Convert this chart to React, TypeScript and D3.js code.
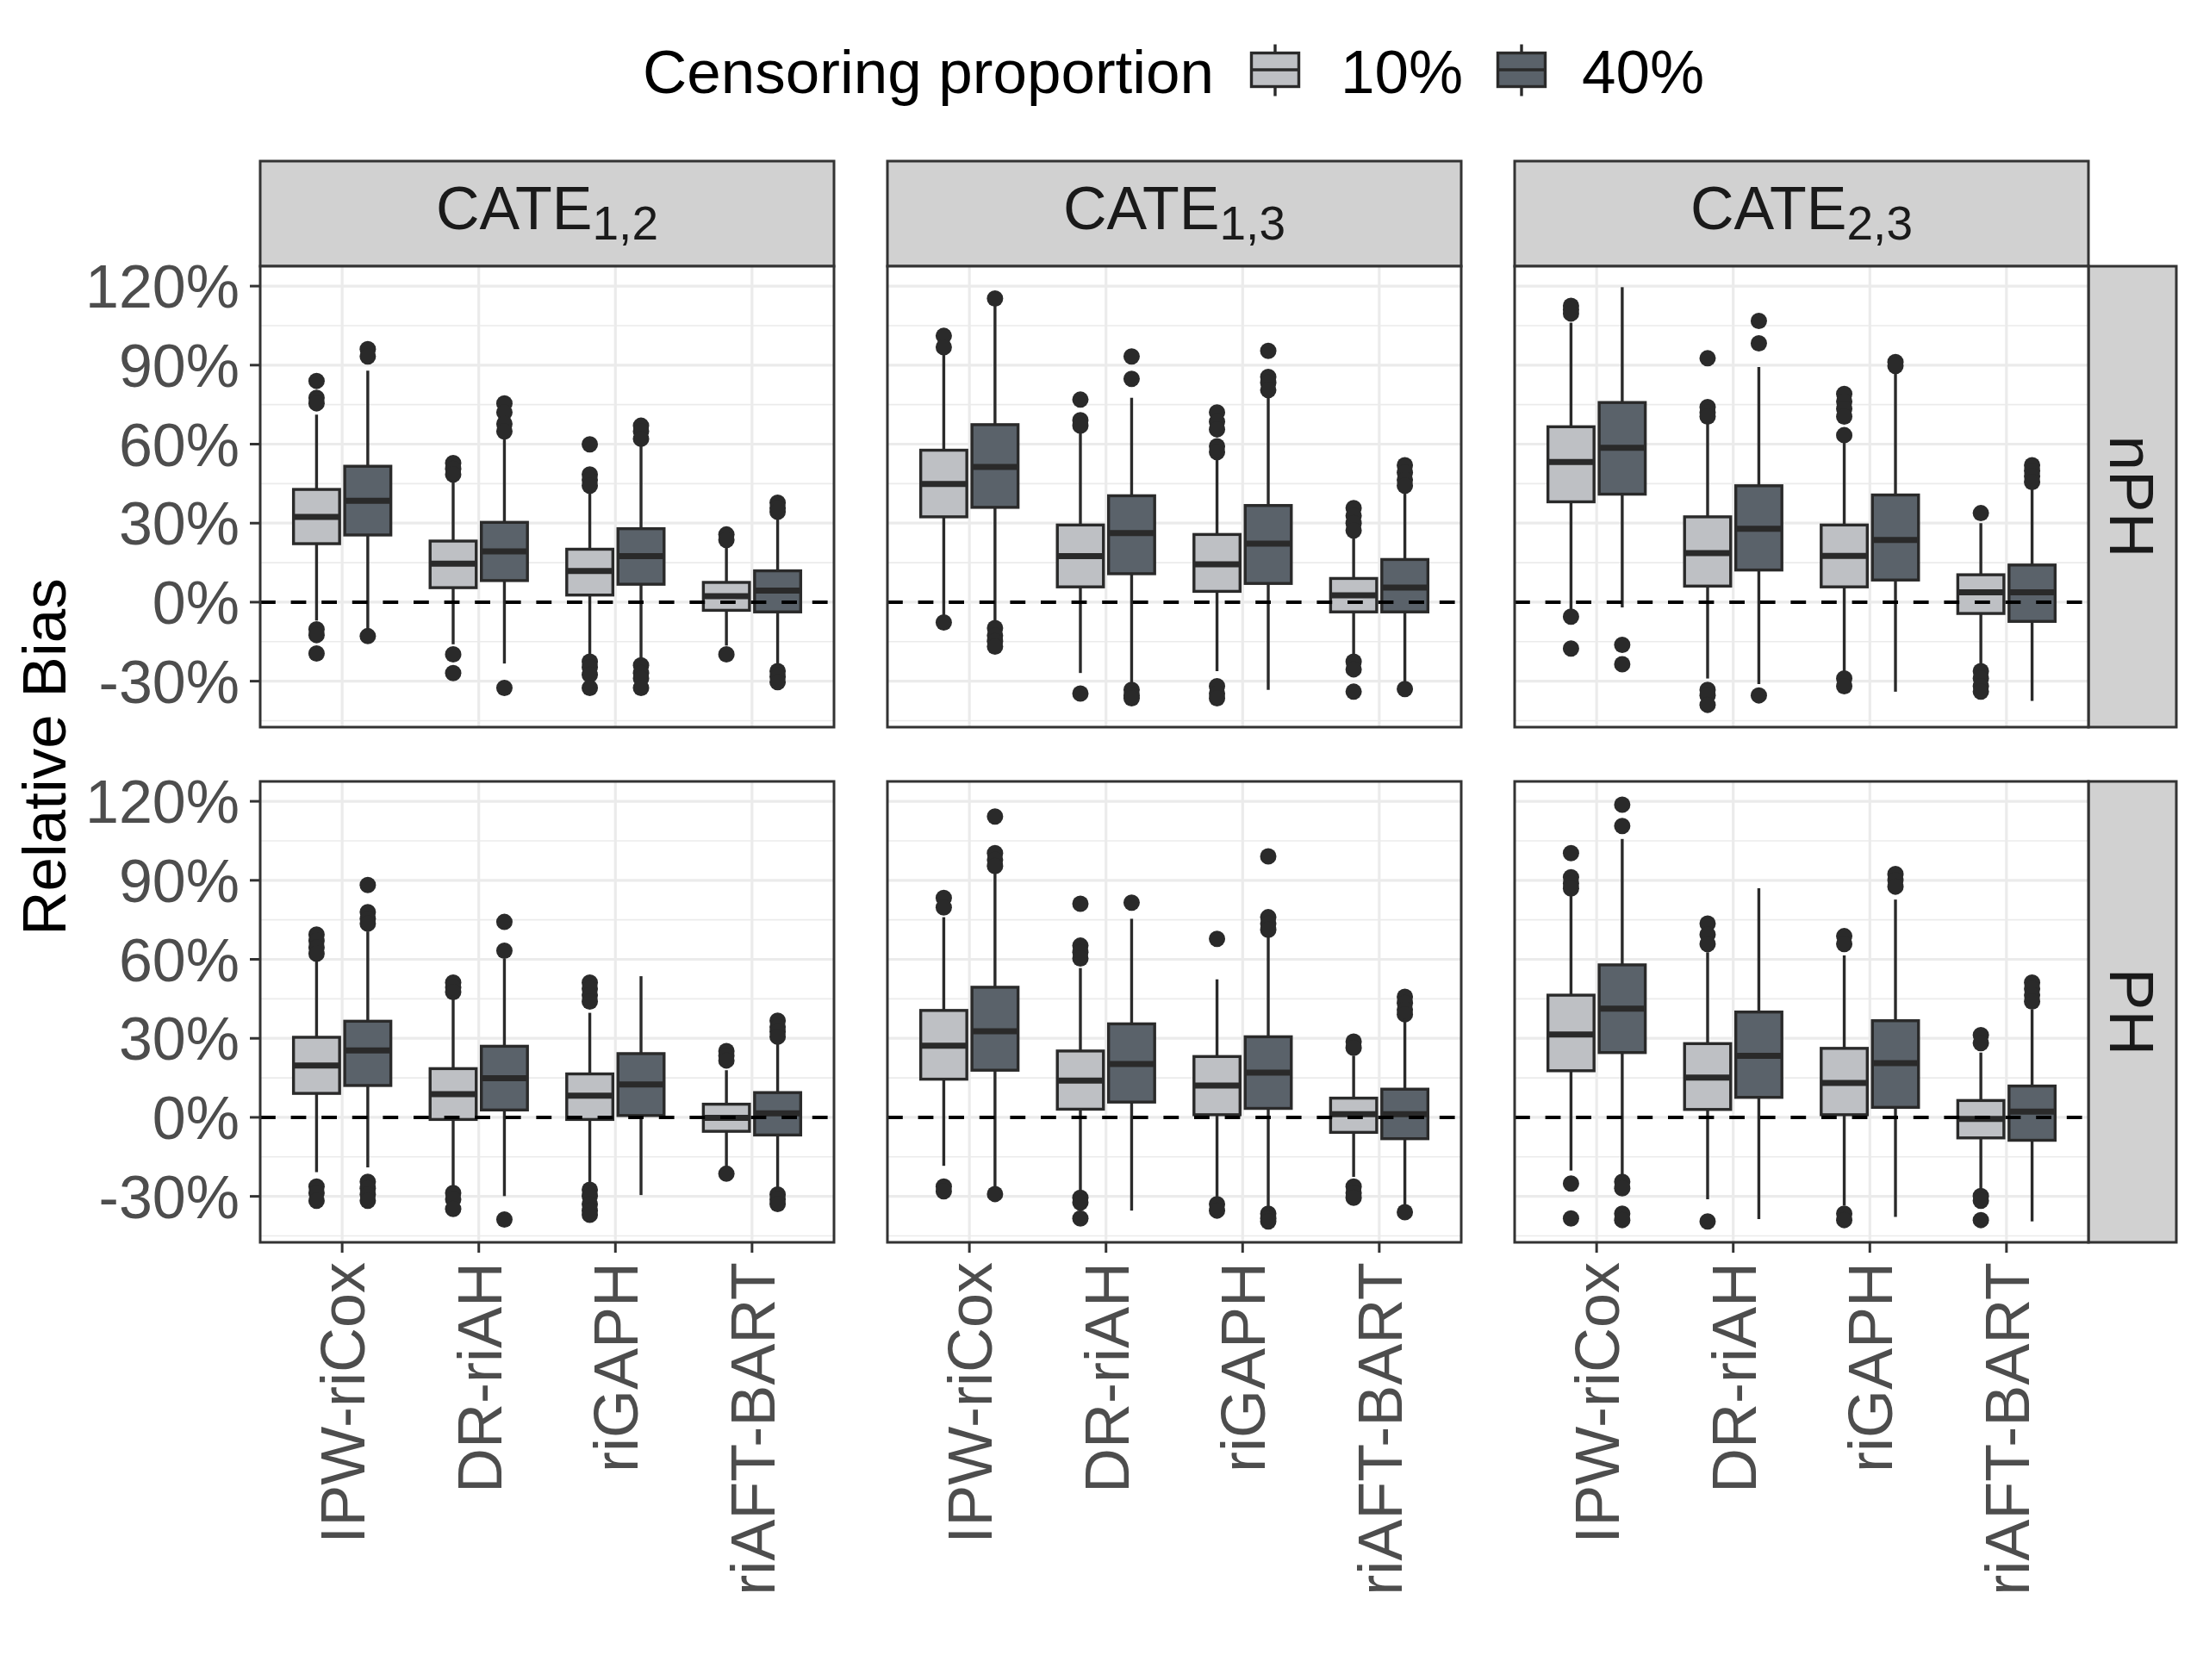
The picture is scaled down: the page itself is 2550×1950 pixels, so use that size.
import * as d3 from "d3";
import React from "react";

// categories
const methods = ["IPW-riCox", "DR-riAH", "riGAPH", "riAFT-BART"];
const estimands = ["1,2", "1,3", "2,3"];
const hazards = ["nPH", "PH"];
const censoring = ["10%", "40%"];
const yTicks = [-30, 0, 30, 60, 90, 120];
const yMinor = [-45, -15, 15, 45, 75, 105];

// box stats: [whiskerLow, q1, median, q3, whiskerHigh], order: method x censoring (10%, 40%)
const nPH_12 = [
  [-7, 22.2, 32.4, 42.8, 71.2], [-10.3, 25.5, 38.5, 51.6, 87.9],
  [-16, 5.5, 14.6, 23.2, 46.4], [-23.3, 8.2, 19.3, 30.3, 62],
  [-20.5, 2.7, 11.8, 20.1, 42.8], [-22, 6.8, 17.5, 27.9, 59.2],
  [-16.5, -3.1, 2.3, 7.5, 20.8], [-24.7, -3.7, 4.4, 11.9, 32.8],
];
const nPH_12_out = [
  [84, 77.6, 75.5, -10.3, -12.5, -19.5], [96.1, 93.3, -12.9],
  [52.8, 50.6, 48.5, -19.8, -26.9], [75.5, 72, 67.7, 64.8, -32.6],
  [59.9, 48.5, 46.4, 44.2, -22.6, -24.7, -27.6, -32.6], [67, 64.8, 62, -24, -26.9, -29, -32.6],
  [25.7, 23.6, -19.8], [37.8, 35.7, 34.3, -26.2, -28.3, -30.4],
];
const nPH_13 = [
  [-5.5, 32.4, 44.9, 57.7, 94], [-7.7, 36, 51.3, 67.4, 113.2],
  [-26.9, 5.8, 17.5, 29.3, 64.8], [-31.9, 10.8, 26.2, 40.4, 77.6],
  [-26.2, 4.1, 14.4, 25.7, 54.9], [-33.3, 7.1, 22.2, 36.7, 78.4],
  [-20.5, -3.7, 2.6, 9, 25], [-30.4, -3.7, 5.5, 16.2, 42.1],
];
const nPH_13_out = [
  [101.1, 96.8, -7.7], [115.3, -9.8, -12.7, -14.8, -16.9],
  [76.9, 69.1, 67, -34.7], [93.3, 84.8, -33.3, -35.4, -36.5],
  [72, 68.5, 65.6, 59.2, 57, -31.9, -34.7, -36.5], [95.4, 85.5, 83.3, 80.5],
  [35.7, 32.8, 30, 27.2, -22.6, -25.5, -34], [52, 49.2, 46.4, 44.2, -33],
];
const nPH_23 = [
  [-2.7, 38.1, 53.2, 66.6, 106.1], [-2, 41, 58.6, 75.8, 119.6],
  [-29, 6.1, 18.6, 32.4, 68.4], [-31.1, 12.2, 27.9, 44.2, 89.3],
  [-26.2, 5.8, 17.6, 29.3, 60.6], [-34, 8.4, 23.6, 40.7, 86.9],
  [-24, -4.3, 3.7, 10.4, 30], [-37.5, -7.3, 3.7, 14.1, 44.9],
];
const nPH_23_out = [
  [112.5, 111, 109.6, -5.5, -17.6], [-16.2, -23.6],
  [92.6, 74.1, 72, 70.5, -33.3, -35.4, -39], [106.8, 98.3, -35.4],
  [79.1, 76.2, 73.4, 70.5, 63.4, -29, -31.9], [91.2, 89.7],
  [33.8, -26.2, -29, -31.9, -34], [52, 49.9, 47.8, 45.6],
];
const PH_12 = [
  [-20.8, 9.1, 19.7, 30.4, 59.7], [-19, 12.1, 25.4, 36.5, 70.6],
  [-26.3, -0.8, 8.8, 18.5, 46.4], [-29.9, 2.8, 14.9, 27, 60.3],
  [-25.7, -0.8, 8.2, 16.5, 39.7], [-29.5, 0.7, 12.5, 24.2, 53.6],
  [-19, -5.3, -0.2, 5, 17.9], [-28.1, -6.7, 1.5, 9.4, 29.4],
];
const PH_12_out = [
  [69.4, 67, 64.5, 62.1, -26.3, -28.7, -31.7], [88.2, 77.9, 75.4, 73.6, -24.5, -26.9, -29.3, -31.7],
  [51.2, 49.4, 47.6, -28.7, -31.1, -34.8], [74.2, 63.3, -38.8],
  [51.2, 48.8, 46.4, 44, -27.5, -29.9, -33, -35.4, -37], [],
  [25.2, 23.4, 21.6, -21.4], [36.7, 34.3, 32.5, 30.6, -29.3, -31.1, -32.9],
];
const PH_13 = [
  [-18.4, 14.5, 27.2, 40.6, 76], [-26.3, 17.9, 32.7, 49.4, 93],
  [-29.3, 3.1, 14, 25.2, 56.7], [-35.4, 5.8, 20.3, 35.5, 75.4],
  [-31.1, 1, 12.1, 23.1, 52.4], [-35.4, 3.4, 17, 30.6, 68.8],
  [-22.6, -5.7, 1.2, 7.3, 23.4], [-34.2, -8.1, 1.2, 10.7, 37.3],
];
const PH_13_out = [
  [83.3, 79.7, -26.3, -28.1], [114.2, 100.3, 97.8, 95.4, -29.1],
  [81.1, 65.2, 62.7, 60.3, -30.5, -32.3, -38.4], [81.5],
  [67.8, -33, -35.4], [99.1, 76, 73.6, 71.2, -36.6, -38.4, -39.5],
  [28.8, 26.4, -26.3, -28.7, -30.5], [45.8, 43.4, 40.9, 39.1, -36],
];
const PH_23 = [
  [-20.2, 17.7, 31.5, 46.4, 84.5], [-22.6, 24.6, 41.3, 57.9, 105.7],
  [-31.1, 3, 15.1, 28, 62.7], [-38.6, 7.6, 23.4, 40, 87],
  [-33.5, 1, 13.1, 26.2, 61.5], [-37.8, 3.8, 20.6, 36.7, 82.7],
  [-27.5, -7.8, -0.6, 6.4, 24.6], [-39.5, -8.7, 2.2, 11.9, 40.9],
];
const PH_23_out = [
  [100.3, 91.2, 88.8, 86.9, -25.1, -38.4], [118.7, 110.6, -24.5, -26.9, -36.6, -39],
  [73.6, 69.4, 65.8, -39.5], [],
  [68.8, 65.8, -36.6, -39], [92.4, 90, 87.6],
  [31.2, 28.2, -29.9, -31.7, -39], [51.2, 48.8, 46.4, 44],
];

const panelStats = [
  [nPH_12, nPH_13, nPH_23],
  [PH_12, PH_13, PH_23],
];
const panelOutliers = [
  [nPH_12_out, nPH_13_out, nPH_23_out],
  [PH_12_out, PH_13_out, PH_23_out],
];

const fills = ["#BEC0C4", "#5A626A"];
const ink = "#2A2A2A";
const font = "'Liberation Sans', Arial, Helvetica, sans-serif";

const W = 2550;
const H = 1950;
const panelLeft = 302;
const panelW = 666;
const gapX = 62;
const stripTop = 187;
const stripH = 122;
const panelTop = 309;
const panelH = 535;
const gapY = 63;
const rightStripW = 102;

// ggplot-like 5% expansion of the data range
const allValues = [
  ...panelStats.flat(2).flat(),
  ...panelOutliers.flat(2).flat(),
];
const [vmin, vmax] = d3.extent(allValues) as [number, number];
const pad = (vmax - vmin) * 0.05;
const yDomain: [number, number] = [vmin - pad, vmax + pad];

function Panel({ row, col }: { row: number; col: number }) {
  const x0 = panelLeft + col * (panelW + gapX);
  const y0 = panelTop + row * (panelH + gapY);
  const x = d3.scalePoint<string>().domain(methods).range([0, panelW]).padding(0.6);
  const y = d3.scaleLinear().domain(yDomain).range([panelH, 0]);
  const step = x.step();
  const bw = 0.3375 * step;
  const stats = panelStats[row][col];
  const outs = panelOutliers[row][col];

  return (
    <g transform={`translate(${x0},${y0})`}>
      <rect width={panelW} height={panelH} fill="white" />
      {yMinor.map((t) => (
        <line key={"mn" + t} x1={0} x2={panelW} y1={y(t)} y2={y(t)} stroke="#EBEBEB" strokeWidth={1.6} />
      ))}
      {yTicks.map((t) => (
        <line key={"mj" + t} x1={0} x2={panelW} y1={y(t)} y2={y(t)} stroke="#EBEBEB" strokeWidth={3.2} />
      ))}
      {methods.map((m) => (
        <line key={"v" + m} x1={x(m)} x2={x(m)} y1={0} y2={panelH} stroke="#EBEBEB" strokeWidth={3.2} />
      ))}
      {methods.map((m, mi) =>
        censoring.map((c, ci) => {
          const s = stats[mi * 2 + ci];
          const o = outs[mi * 2 + ci];
          const cx = (x(m) as number) + (ci === 0 ? -1 : 1) * 0.1875 * step;
          return (
            <g key={m + c}>
              {o.map((v, k) => (
                <circle key={k} cx={cx} cy={y(v)} r={9.5} fill={ink} />
              ))}
              <line x1={cx} x2={cx} y1={y(s[3])} y2={y(s[4])} stroke={ink} strokeWidth={3.4} />
              <line x1={cx} x2={cx} y1={y(s[0])} y2={y(s[1])} stroke={ink} strokeWidth={3.4} />
              <rect
                x={cx - bw / 2}
                width={bw}
                y={y(s[3])}
                height={y(s[1]) - y(s[3])}
                fill={fills[ci]}
                stroke={ink}
                strokeWidth={3.4}
              />
              <line x1={cx - bw / 2} x2={cx + bw / 2} y1={y(s[2])} y2={y(s[2])} stroke={ink} strokeWidth={7} />
            </g>
          );
        })
      )}
      <line x1={0} x2={panelW} y1={y(0)} y2={y(0)} stroke="black" strokeWidth={4} strokeDasharray="17.8 17.8" />
      <rect width={panelW} height={panelH} fill="none" stroke="#333333" strokeWidth={3} />
      {col === 0 && (
        <g>
          {yTicks.map((t) => (
            <g key={t}>
              <line x1={-12} x2={0} y1={y(t)} y2={y(t)} stroke="#333333" strokeWidth={3} />
              <text
                x={-24}
                y={y(t)}
                dy="0.36em"
                textAnchor="end"
                fontSize={70}
                fill="#4D4D4D"
                fontFamily={font}
              >
                {`${t}%`}
              </text>
            </g>
          ))}
        </g>
      )}
      {row === 1 &&
        methods.map((m) => (
          <g key={m}>
            <line x1={x(m)} x2={x(m)} y1={panelH} y2={panelH + 12} stroke="#333333" strokeWidth={3} />
            <text
              transform={`translate(${x(m)},${panelH + 23}) rotate(-90)`}
              dy="0.36em"
              textAnchor="end"
              fontSize={72}
              fill="#4D4D4D"
              fontFamily={font}
            >
              {m}
            </text>
          </g>
        ))}
    </g>
  );
}

export default function App() {
  const keyX = [1480, 1766];
  const labelX = [1556, 1836];
  return (
    <div style={{ position: "absolute", left: 0, top: 0 }}>
      <svg width={W} height={H} viewBox={`0 0 ${W} ${H}`} style={{ display: "block", background: "white" }}>
        <rect width={W} height={H} fill="white" />
        {/* legend */}
        <text x={746} y={108} fontSize={71} fontFamily={font} fill="black">
          Censoring proportion
        </text>
        {censoring.map((c, i) => (
          <g key={c}>
            <line x1={keyX[i]} x2={keyX[i]} y1={51.5} y2={111.5} stroke={ink} strokeWidth={3.4} />
            <rect x={keyX[i] - 27.5} y={61.5} width={55} height={39} fill={fills[i]} stroke={ink} strokeWidth={3.4} />
            <line x1={keyX[i] - 27.5} x2={keyX[i] + 27.5} y1={81} y2={81} stroke={ink} strokeWidth={3.4} />
            <text x={labelX[i]} y={108} fontSize={71} fontFamily={font} fill="black">
              {c}
            </text>
          </g>
        ))}
        {/* top strips */}
        {estimands.map((e, i) => {
          const sx = panelLeft + i * (panelW + gapX);
          return (
            <g key={e}>
              <rect x={sx} y={stripTop} width={panelW} height={stripH} fill="#D1D1D1" stroke="#333333" strokeWidth={3} />
              <text x={sx + panelW / 2} y={266} textAnchor="middle" fontSize={70} fontFamily={font} fill="#1A1A1A">
                <tspan>CATE</tspan>
                <tspan fontSize={55} dy={12}>
                  {e}
                </tspan>
              </text>
            </g>
          );
        })}
        {/* right strips */}
        {hazards.map((h, r) => {
          const sx = panelLeft + 3 * panelW + 2 * gapX;
          const sy = panelTop + r * (panelH + gapY);
          return (
            <g key={h}>
              <rect x={sx} y={sy} width={rightStripW} height={panelH} fill="#D1D1D1" stroke="#333333" strokeWidth={3} />
              <text
                transform={`translate(${sx + rightStripW / 2},${sy + panelH / 2}) rotate(90)`}
                dy="0.36em"
                textAnchor="middle"
                fontSize={73}
                fontFamily={font}
                fill="#1A1A1A"
              >
                {h}
              </text>
            </g>
          );
        })}
        {hazards.map((h, r) =>
          estimands.map((e, c) => <Panel key={h + e} row={r} col={c} />)
        )}
        <text
          transform={`translate(76,${(panelTop + panelTop + 2 * panelH + gapY) / 2 + 3}) rotate(-90)`}
          textAnchor="middle"
          fontSize={71}
          fontFamily={font}
          fill="black"
        >
          Relative Bias
        </text>
      </svg>
    </div>
  );
}
